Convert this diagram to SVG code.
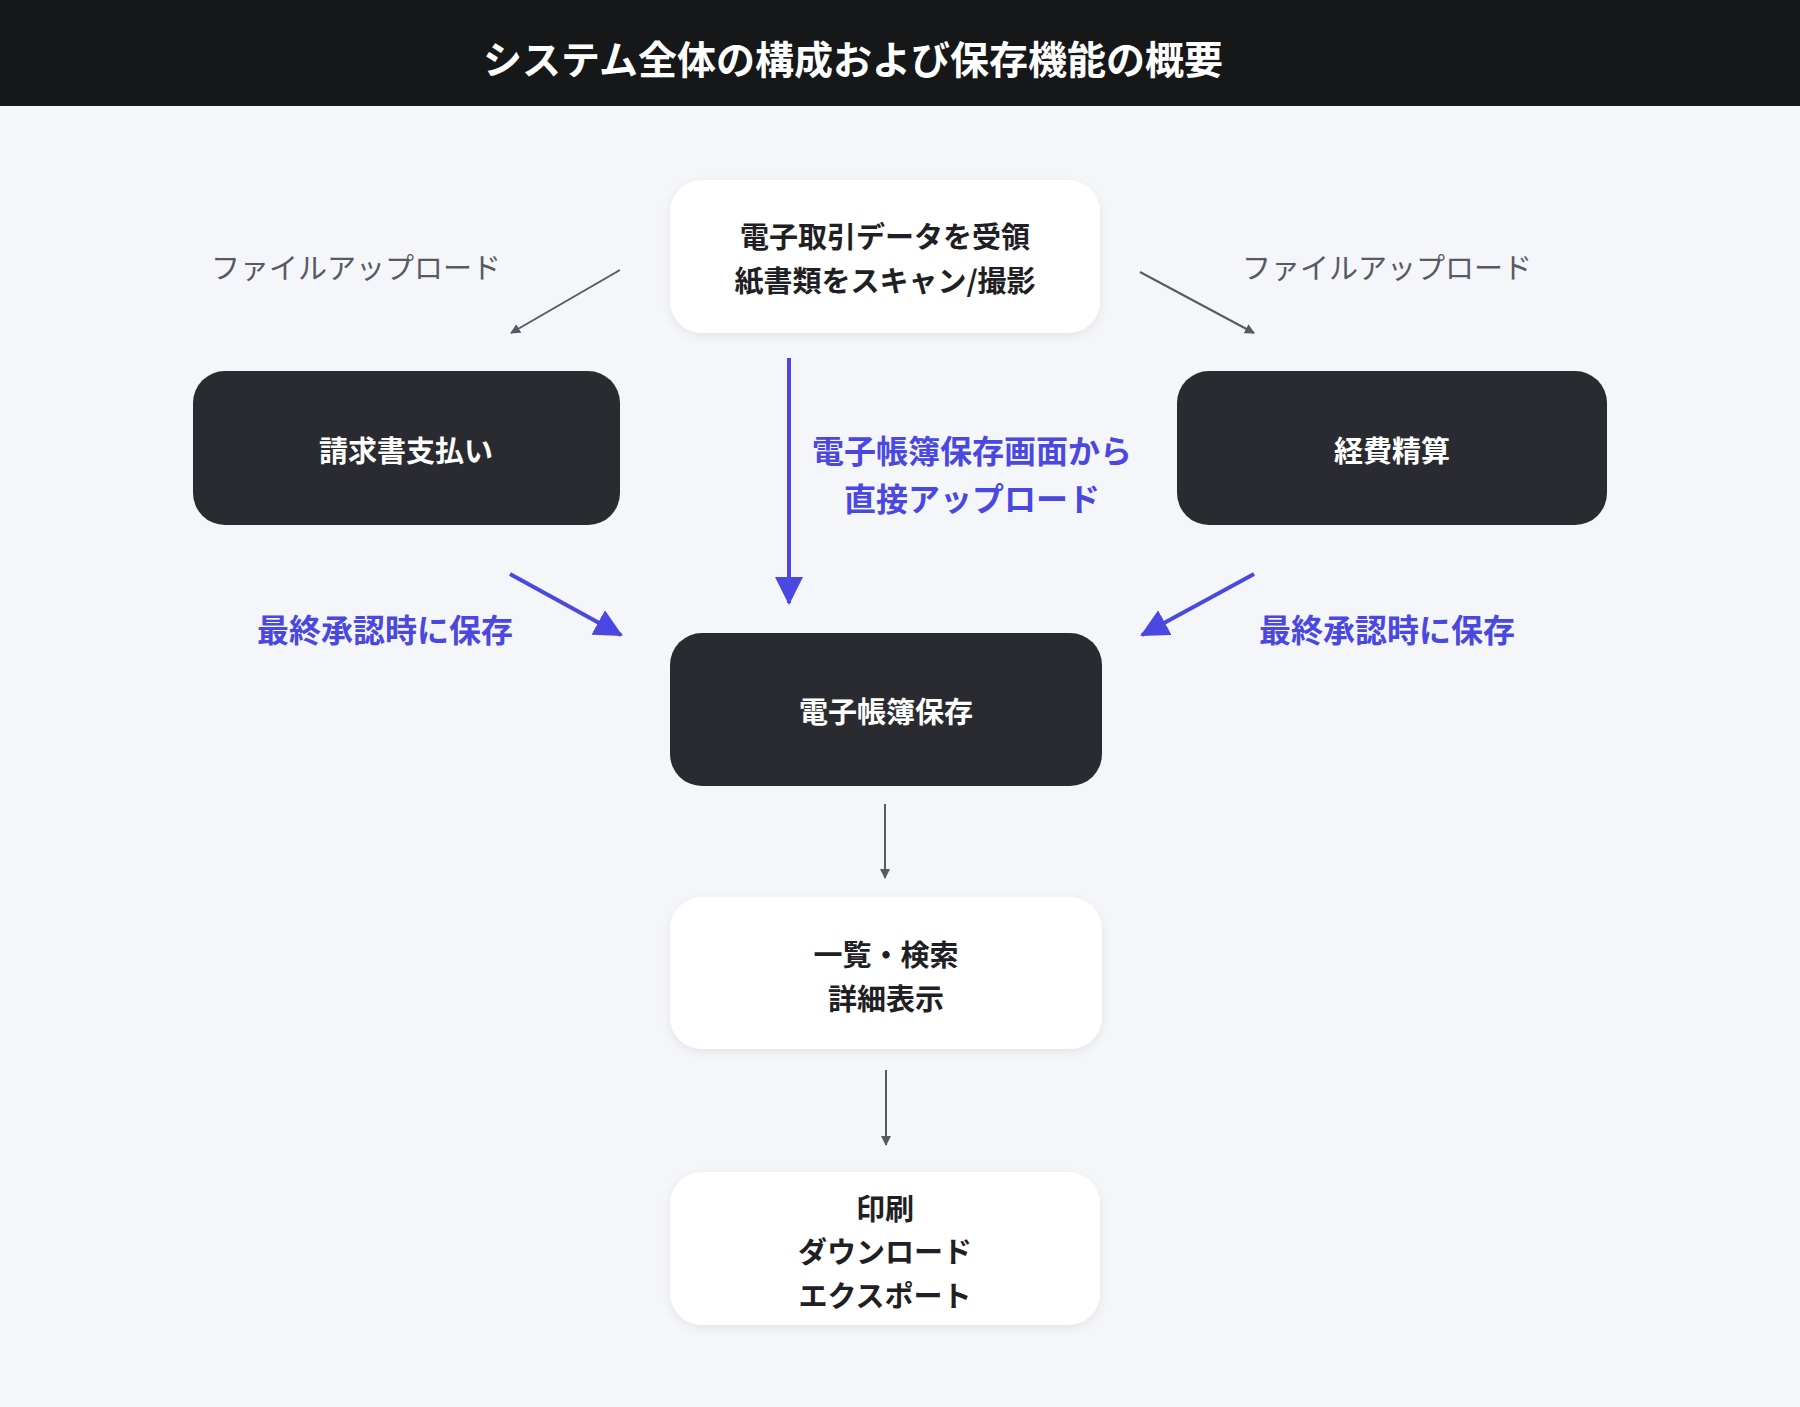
<svg xmlns="http://www.w3.org/2000/svg" width="1800" height="1407" viewBox="0 0 1800 1407">
<style>
text{font-family:"Noto Sans CJK JP","Noto Sans",sans-serif;text-anchor:middle;dominant-baseline:central}
.w{fill:#fff;filter:url(#sh)}
.d{fill:#2a2b30}
.tw{fill:#fff;font-size:29px;font-weight:700}
.tb{fill:#1f2024;font-size:29px;font-weight:700}
.g{fill:#555a63;font-size:29px}
.b{fill:#4a48e0;font-size:32px;font-weight:700}
.gl{stroke:#555a63;stroke-width:2;fill:none}
.bl{stroke:#4a48e0;stroke-width:4;fill:none}
</style>
<defs>
<filter id="sh" x="-10%" y="-10%" width="120%" height="130%"><feDropShadow dx="0" dy="3" stdDeviation="5" flood-color="#000" flood-opacity="0.07"/></filter>
<marker id="ag" markerWidth="10" markerHeight="10" refX="9" refY="5" orient="auto" markerUnits="userSpaceOnUse"><path d="M0,0L10,5L0,10z" fill="#555a63"/></marker>
<marker id="ab" markerWidth="28" markerHeight="28" refX="26" refY="14" orient="auto" markerUnits="userSpaceOnUse"><path d="M0,0L28,14L0,28z" fill="#4a48e0"/></marker>
</defs>
<rect width="1800" height="1407" fill="#f5f6fa"/>
<rect width="1800" height="106" fill="#161719"/>
<text x="853" y="57" fill="#fff" font-size="39" font-weight="700">システム全体の構成および保存機能の概要</text>
<g id="connectors">
<line class="gl" x1="620" y1="270" x2="511" y2="333" marker-end="url(#ag)"/>
<line class="gl" x1="1140" y1="272" x2="1254" y2="333" marker-end="url(#ag)"/>
<line class="bl" x1="789" y1="358" x2="789" y2="603" marker-end="url(#ab)"/>
<line class="bl" x1="510" y1="574" x2="621" y2="635" marker-end="url(#ab)"/>
<line class="bl" x1="1254" y1="574" x2="1142" y2="635" marker-end="url(#ab)"/>
<line class="gl" x1="885" y1="804" x2="885" y2="878" marker-end="url(#ag)"/>
<line class="gl" x1="886" y1="1070" x2="886" y2="1145" marker-end="url(#ag)"/>
<text class="g" x="356" y="266">ファイルアップロード</text>
<text class="g" x="1387" y="266">ファイルアップロード</text>
<text class="b" x="972" y="449">電子帳簿保存画面から</text>
<text class="b" x="972" y="497">直接アップロード</text>
<text class="b" x="385" y="628">最終承認時に保存</text>
<text class="b" x="1387" y="628">最終承認時に保存</text>
</g>
<g id="source"><rect class="w" x="670" y="180" width="430" height="153" rx="32"/>
<text class="tb" x="885" y="235">電子取引データを受領</text><text class="tb" x="885" y="279">紙書類をスキャン/撮影</text></g>
<g id="invoice"><rect class="d" x="193" y="371" width="427" height="154" rx="32"/><text class="tw" x="406" y="449">請求書支払い</text></g>
<g id="expense"><rect class="d" x="1177" y="371" width="430" height="154" rx="32"/><text class="tw" x="1392" y="449">経費精算</text></g>
<g id="storage"><rect class="d" x="670" y="633" width="432" height="153" rx="32"/><text class="tw" x="886" y="710">電子帳簿保存</text></g>
<g id="list"><rect class="w" x="670" y="897" width="432" height="152" rx="32"/>
<text class="tb" x="886" y="953">一覧・検索</text><text class="tb" x="886" y="997">詳細表示</text></g>
<g id="print"><rect class="w" x="670" y="1172" width="430" height="153" rx="32"/>
<text class="tb" x="885" y="1207">印刷</text><text class="tb" x="885" y="1250">ダウンロード</text><text class="tb" x="885" y="1294">エクスポート</text></g>
</svg>
